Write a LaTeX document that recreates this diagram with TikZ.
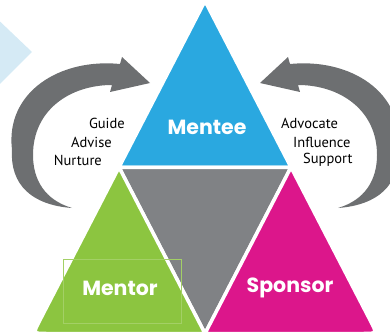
\documentclass[tikz,border=0pt]{standalone}
\usepackage{fontspec}
\setmainfont{PT Sans}
\newfontfamily\labelfont{Poppins}
\usepackage{xcolor}
\usepackage{tikz}
\usetikzlibrary{calc}

\definecolor{menteeblue}{HTML}{2AA8E0}
\definecolor{mentorgreen}{HTML}{8CC540}
\definecolor{sponsorpink}{HTML}{DC168B}
\definecolor{middlegray}{HTML}{808285}
\definecolor{arrowgray}{HTML}{6D6F71}
\definecolor{paleblue}{HTML}{D5EAF5}
\definecolor{framegreen}{HTML}{A3D066}

\newcommand{\curvearrow}{\fill[arrowgray] (120,64) .. controls (60,58) and (5,92) .. (12,150) .. controls (10,185) and (32,205) .. (72,208) .. controls (45,200) and (33,180) .. (33,155) .. controls (33,110) and (70,85) .. (112,85) -- (110,92) -- (150,83) -- (122,57) -- cycle;}

\begin{document}
\begin{tikzpicture}[x=1pt,y=-1pt]
	\useasboundingbox (0,0) rectangle (390,334);
	\clip (0,0) rectangle (390,334);
	\fill[paleblue] (-10,12) -- (32,52) -- (-10,94) -- cycle;
	\coordinate (top) at (205,1);
	\coordinate (bl) at (33,333.5);
	\coordinate (br) at (377,333.5);
	\coordinate (ml) at ($(top)!0.5!(bl)$);
	\coordinate (mr) at ($(top)!0.5!(br)$);
	\coordinate (mb) at ($(bl)!0.5!(br)$);
	\tikzstyle{tri}=[draw=white,line width=3.5pt,line join=miter]
	\path[tri,fill=menteeblue] (top) -- (ml) -- (mr) -- cycle;
	\path[tri,fill=middlegray] (ml) -- (mr) -- (mb) -- cycle;
	\path[tri,fill=mentorgreen] (ml) -- (mb) -- ($(bl)!14pt!(mb)$) .. controls (bl) .. ($(bl)!14pt!(ml)$) -- cycle;
	\path[tri,fill=sponsorpink] (mr) -- (mb) -- ($(br)!14pt!(mb)$) .. controls (br) .. ($(br)!14pt!(mr)$) -- cycle;
	\draw[framegreen,line width=0.4pt] (63,259) rectangle (181,323);
	\curvearrow
	\begin{scope}[shift={(410,0)},xscale=-1]
		\curvearrow
	\end{scope}
	\tikzstyle{every node}=[text=white,font=\labelfont\bfseries\fontsize{20.5}{24}\selectfont];
	\node (mentee) at (207,127) {Mentee};
	\node (mentor) at (120,288) {Mentor};
	\node (sponsor) at (290,288) {Sponsor};
	\tikzstyle{every node}=[text=black,inner sep=0pt,font=\fontsize{14.5}{18}\selectfont];
	\node[anchor=east] (guide) at (125,123) {Guide};
	\node[anchor=east] (advise) at (112,142) {Advise};
	\node[anchor=east] (nurture) at (102,160) {Nurture};
	\node[anchor=west] (advocate) at (281,123) {Advocate};
	\node[anchor=west] (influence) at (293,142) {Influence};
	\node[anchor=west] (support) at (303,160) {Support};
\end{tikzpicture}
\end{document}
